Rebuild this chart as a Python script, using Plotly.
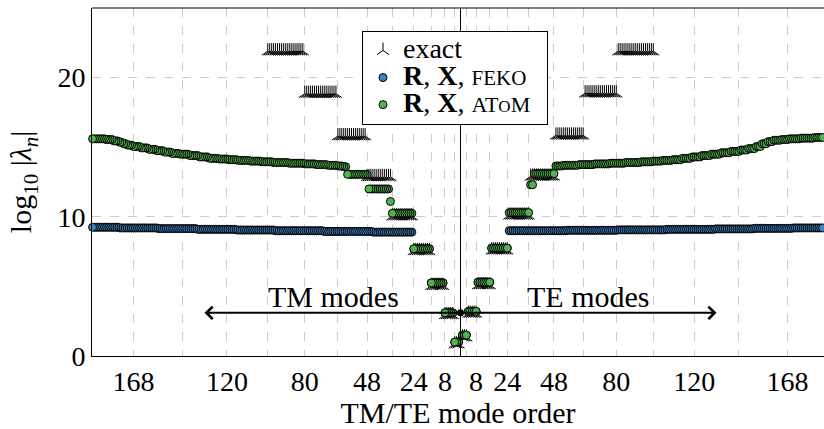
import plotly.graph_objects as go

# ---------------- data ----------------
# grid lines at cumulative mode counts (degree boundaries)
grid_modes = [3, 8, 15, 24, 35, 48, 63, 80, 99, 120, 143, 168]
labeled_modes = [8, 24, 48, 80, 120, 168]
y_ticks = [0, 10, 20]

# exact eigenvalues (log10|lambda_n|) per degree l = 1..9, multiplicity 2l+1
exact_counts = [3, 5, 7, 9, 11, 13, 15, 17, 19]
exact_tm = [0.85, 2.95, 5.05, 7.55, 10.05, 12.87, 15.8, 18.85, 21.9]
exact_te = [1.35, 3.05, 5.1, 7.6, 10.1, 12.9, 15.85, 18.88, 21.9]

# AToM results, run-length encoded (value, number of consecutive modes)
atom_tm_runs = [
    (1.0, 3), (3.1, 5), (5.25, 7), (7.7, 9), (10.25, 11), (11.1, 1),
    (12.0, 11), (13.05, 11),
    (13.6, 2), (13.65, 3), (13.7, 5), (13.75, 6), (13.8, 6), (13.85, 8),
    (13.9, 8), (13.95, 6), (14.0, 6), (14.05, 6), (14.1, 5), (14.15, 5),
    (14.2, 5), (14.3, 5), (14.4, 5), (14.5, 5), (14.55, 4), (14.65, 4),
    (14.75, 4), (14.85, 4), (14.95, 4), (15.05, 4), (15.15, 3), (15.25, 2),
    (15.35, 2), (15.45, 3), (15.55, 4), (15.6, 7),
]
atom_te_runs = [
    (1.5, 3), (3.2, 5), (5.3, 7), (7.75, 9), (10.3, 11), (12.3, 2),
    (13.1, 11),
    (13.65, 4), (13.7, 8), (13.75, 8), (13.8, 8), (13.85, 8), (13.9, 8),
    (13.95, 6), (14.0, 5), (14.05, 5), (14.1, 5), (14.2, 5), (14.3, 5),
    (14.4, 5), (14.5, 5), (14.6, 5), (14.7, 5), (14.8, 4), (14.9, 4),
    (15.05, 3), (15.25, 3), (15.4, 3), (15.5, 4), (15.55, 4), (15.6, 6),
    (15.65, 7), (15.7, 8),
]
# FEKO results, run-length encoded
feko_tm_runs = [
    (1.0, 3), (3.1, 5), (5.25, 7), (7.7, 9),
    (8.9, 21), (8.95, 25), (9.0, 25), (9.05, 20), (9.1, 20), (9.15, 20),
    (9.2, 20), (9.25, 14),
]
feko_te_runs = [
    (1.5, 3), (3.2, 5), (5.3, 7), (7.75, 9),
    (9.0, 30), (9.03, 26), (9.06, 25), (9.1, 25), (9.13, 20), (9.17, 20),
    (9.2, 19),
]

# annotation anchors (data units)
arrow_y = 3.1
arrow_len = 131.5
label_y = 4.3
label_x = 65.5

x_range = [-189.3, 186.7]
y_range = [0, 25]

# ---------------- helpers ----------------
def expand(runs):
    out = []
    for v, c in runs:
        out += [v] * c
    return out


def signed_modes(n, sign):
    return [sign * (i + 1) for i in range(n)]


exact_tm_vals = expand(zip(exact_tm, exact_counts))
exact_te_vals = expand(zip(exact_te, exact_counts))
atom_tm = expand(atom_tm_runs)
atom_te = expand(atom_te_runs)
feko_tm = expand(feko_tm_runs)
feko_te = expand(feko_te_runs)

FONT = "Liberation Serif"
FS = 28
TFS = 30
BLUE = "#3f83c0"
GREEN = "#55b04f"
GRID = "#cccccc"

fig = go.Figure()

fig.add_trace(go.Scatter(
    x=signed_modes(len(exact_tm_vals), -1) + signed_modes(len(exact_te_vals), 1),
    y=exact_tm_vals + exact_te_vals,
    mode="markers", cliponaxis=False,
    name="<span style='font-size:28px'>exact</span>",
    marker=dict(symbol="y-up", size=10, color="black",
                line=dict(color="black", width=1.0)),
))
fig.add_trace(go.Scatter(
    x=signed_modes(len(feko_tm), -1) + signed_modes(len(feko_te), 1),
    y=feko_tm + feko_te,
    mode="markers", cliponaxis=False,
    name="<span style='font-size:28px'><b>R</b>, <b>X</b>, </span>"
         "<span style='font-size:21px'>FEKO</span>",
    marker=dict(symbol="circle", size=8, color=BLUE,
                line=dict(color="black", width=1.0)),
))
fig.add_trace(go.Scatter(
    x=signed_modes(len(atom_tm), -1) + signed_modes(len(atom_te), 1),
    y=atom_tm + atom_te,
    mode="markers", cliponaxis=False,
    name="<span style='font-size:28px'><b>R</b>, <b>X</b>, </span>"
         "<span style='font-size:22px'>AT</span>"
         "<span style='font-size:17px'>O</span><span style='font-size:22px'>M</span>"
         "<span style='font-size:22px'>&nbsp;&nbsp;</span>",
    marker=dict(symbol="circle", size=8, color=GREEN,
                line=dict(color="black", width=1.0)),
))
# arrow origin dot
fig.add_trace(go.Scatter(
    x=[0], y=[arrow_y], mode="markers", showlegend=False, cliponaxis=False,
    marker=dict(symbol="circle", size=7, color="black"),
))

neg_labeled = sorted(-m for m in labeled_modes)
tickvals = neg_labeled + labeled_modes
ticktext = [str(-v) for v in neg_labeled] + [str(v) for v in labeled_modes]
minor_vals = sorted([-m for m in grid_modes if m not in labeled_modes] +
                    [m for m in grid_modes if m not in labeled_modes])

fig.update_layout(
    width=824, height=429,
    margin=dict(l=92, r=0, t=8, b=73),
    paper_bgcolor="white", plot_bgcolor="white",
    font=dict(family=FONT, size=FS, color="black"),
    showlegend=True,
    legend=dict(
        x=(362 - 92) / 732, y=(356 - 31) / 348, xanchor="left", yanchor="top",
        bgcolor="white", bordercolor="black", borderwidth=1,
        font=dict(family=FONT, size=18.5), itemsizing="trace",
        tracegroupgap=0,
    ),
    xaxis=dict(
        range=x_range, tickmode="array", tickvals=tickvals, ticktext=ticktext,
        showgrid=True, gridcolor=GRID, griddash="dash", gridwidth=1,
        minor=dict(tickmode="array", tickvals=minor_vals, showgrid=True,
                   gridcolor=GRID, griddash="dash", gridwidth=1, ticks=""),
        zeroline=False, showline=True, linecolor="black", linewidth=1,
        ticks="", tickfont=dict(size=FS, family=FONT),
        title=dict(text="TM/TE mode order", font=dict(size=TFS, family=FONT), standoff=4),
    ),
    yaxis=dict(
        range=y_range, tickmode="array", tickvals=y_ticks,
        showgrid=True, gridcolor=GRID, griddash="dash", gridwidth=1,
        zeroline=False, showline=True, linecolor="black", linewidth=1,
        ticks="", tickfont=dict(size=FS, family=FONT),
        title=dict(text="log<sub>10</sub> |<i>λ<sub>n</sub></i>|",
                   font=dict(size=TFS, family=FONT), standoff=16),
    ),
    shapes=[
        dict(type="line", xref="paper", yref="paper", x0=0, x1=1, y0=1, y1=1,
             line=dict(color="black", width=1)),
        dict(type="line", xref="x", yref="paper", x0=0, x1=0, y0=0, y1=1,
             line=dict(color="black", width=1)),
    ],
    annotations=[
        dict(x=-arrow_len, y=arrow_y, ax=0, ay=arrow_y, xref="x", yref="y",
             axref="x", ayref="y", showarrow=True, arrowhead=4, arrowsize=1.2,
             arrowwidth=2, arrowcolor="black", text=""),
        dict(x=arrow_len, y=arrow_y, ax=0, ay=arrow_y, xref="x", yref="y",
             axref="x", ayref="y", showarrow=True, arrowhead=4, arrowsize=1.2,
             arrowwidth=2, arrowcolor="black", text=""),
        dict(x=-label_x, y=label_y, xref="x", yref="y", text="TM modes",
             showarrow=False, font=dict(size=TFS, family=FONT)),
        dict(x=label_x, y=label_y, xref="x", yref="y", text="TE modes",
             showarrow=False, font=dict(size=TFS, family=FONT)),
    ],
)

fig.write_html("out.html")
